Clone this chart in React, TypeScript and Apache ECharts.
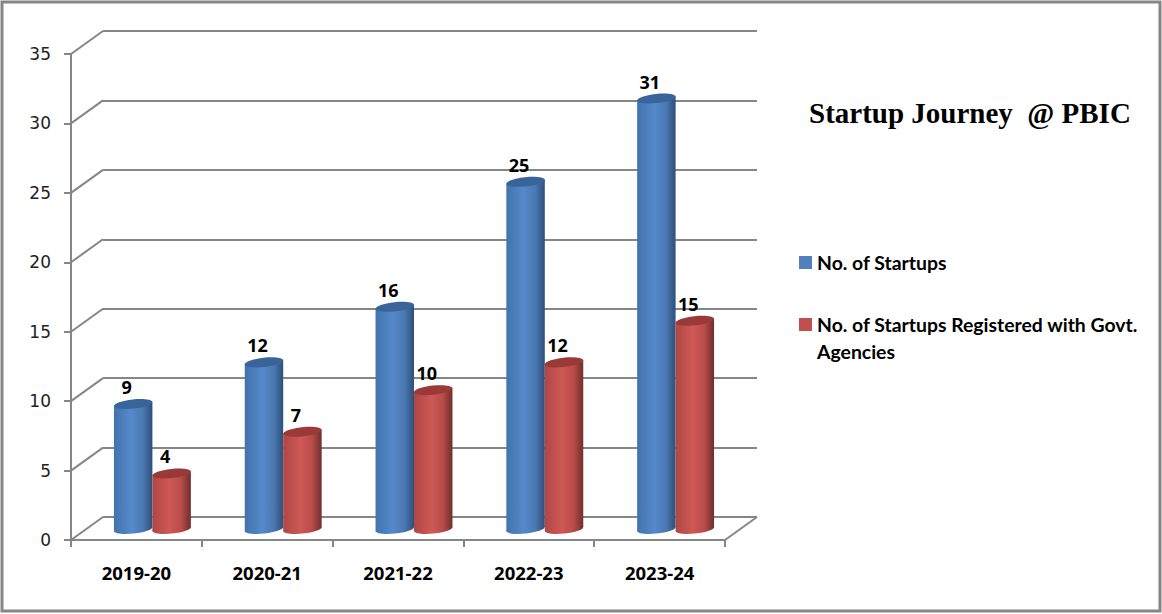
import React, { useEffect, useRef } from "react";
import * as echarts from "echarts";

const categories = ["2019-20", "2020-21", "2021-22", "2022-23", "2023-24"];
const startups = [9, 12, 16, 25, 31];
const registered = [4, 7, 10, 12, 15];
const tickValues = [0, 5, 10, 15, 20, 25, 30, 35];
const nameA = "No. of Startups";
const nameB = "No. of Startups Registered with Govt. Agencies";
const titleText = "Startup Journey  @ PBIC";

const AXIS = "#868686";
const W = 654, H = 486, L = 71, T = 54, DX = 32, DY = 23;

const grad = (stops: [number, string][]) =>
  new echarts.graphic.LinearGradient(0, 0, 1, 0, stops.map(([offset, color]) => ({ offset, color })));

const blueBody: [number, string][] = [[0, "#4273ae"], [0.45, "#5589ca"], [0.75, "#4a79b2"], [1, "#2e4f7a"]];
const redBody: [number, string][] = [[0, "#ae4744"], [0.45, "#cf5856"], [0.75, "#b84c4a"], [1, "#6f2e2c"]];

function cylinder(side: number, body: [number, string][], cap: string) {
  return (params: any, api: any) => {
    const band = api.size([1, 0])[0];
    const bw = band * 0.294;
    const base = api.coord([api.value(0), 0]);
    const top = api.coord([api.value(0), api.value(1)]);
    const cx = base[0] + (side * bw) / 2;
    const rx = bw / 2;
    const rot = (6 * Math.PI) / 180;
    const dy = Math.sin(rot) * rx;
    const fill = grad(body);
    const ell = (y: number, f: any) => ({
      type: "ellipse",
      x: cx,
      y,
      rotation: rot,
      shape: { cx: 0, cy: 0, rx: rx / Math.cos(rot), ry: 4.6 },
      style: { fill: f },
    });
    return {
      type: "group",
      children: [
        ell(base[1], fill),
        {
          type: "polygon",
          shape: {
            points: [
              [cx - rx, top[1] + dy],
              [cx + rx, top[1] - dy],
              [cx + rx, base[1] - dy],
              [cx - rx, base[1] + dy],
            ],
          },
          style: { fill },
        },
        ell(top[1], cap),
        {
          type: "text",
          x: cx - 6.5,
          y: top[1] - 17,
          style: {
            text: String(api.value(1)),
            fill: "#000",
            font: "bold 18px 'Open Sans'",
            align: "center",
            verticalAlign: "middle",
          },
        },
      ],
    };
  };
}

function diagonal(params: any, api: any) {
  const p = api.coord([0, api.value(0)]);
  const x = p[0] - api.size([1, 0])[0] / 2;
  return {
    type: "line",
    shape: { x1: x, y1: p[1], x2: x + DX, y2: p[1] - DY },
    style: { stroke: AXIS, lineWidth: 2, fill: "none" },
  };
}

function floorEdge(params: any, api: any) {
  const p = api.coord([categories.length - 1, 0]);
  const x = p[0] + api.size([1, 0])[0] / 2;
  return {
    type: "line",
    shape: { x1: x, y1: p[1], x2: x + DX, y2: p[1] - DY },
    style: { stroke: AXIS, lineWidth: 2, fill: "none" },
  };
}

export default function App() {
  const ref = useRef<HTMLDivElement>(null);
  useEffect(() => {
    document.body.style.margin = "0";
    const chart = echarts.init(ref.current!, undefined, { renderer: "svg" });
    const hiddenX = { type: "category", data: categories, show: false };
    const hiddenY = { type: "value", min: 0, max: 35, interval: 5, show: false };
    chart.setOption({
      animation: false,
      backgroundColor: "#fff",
      title: {
        text: titleText,
        left: 804,
        top: 93,
        textStyle: { fontFamily: "'Liberation Serif'", fontWeight: "bold", fontSize: 29, color: "#000" },
      },
      legend: {
        orient: "vertical",
        left: 794,
        top: 244,
        itemGap: 8,
        itemWidth: 13,
        itemHeight: 13,
        icon: "rect",
        selectedMode: false,
        data: [nameA, nameB],
        formatter: (n: string) =>
          n === nameB ? "\nNo. of Startups Registered with Govt.\nAgencies" : n,
        textStyle: { fontFamily: "Lato", fontWeight: "bold", fontSize: 19.4, color: "#000", lineHeight: 27 },
      },
      graphic: [
        {
          type: "rect",
          shape: { x: 2, y: 2, width: 1158, height: 609 },
          style: { fill: "none", stroke: AXIS, lineWidth: 3 },
          silent: true,
        },
      ],
      grid: [
        { left: L, top: T, width: W, height: H },
        { left: L + DX / 2, top: T - DY / 2 + 0.5, width: W, height: H },
        { left: L + DX, top: T - DY, width: W, height: H },
      ],
      xAxis: [
        {
          gridIndex: 0,
          type: "category",
          data: categories,
          axisLine: { show: true, lineStyle: { color: AXIS, width: 2 } },
          axisTick: { show: true, length: 7, lineStyle: { color: AXIS, width: 2 } },
          axisLabel: {
            margin: 23,
            fontFamily: "'Open Sans'",
            fontWeight: "bold",
            fontSize: 18.5,
            color: "#000",
            interval: 0,
          },
        },
        { ...hiddenX, gridIndex: 1 },
        { ...hiddenX, gridIndex: 2 },
      ],
      yAxis: [
        {
          gridIndex: 0,
          type: "value",
          min: 0,
          max: 35,
          interval: 5,
          axisLine: { show: true, lineStyle: { color: AXIS, width: 2 } },
          axisTick: { show: true, length: 7, lineStyle: { color: AXIS, width: 2 } },
          axisLabel: { margin: 20, fontFamily: "'DejaVu Sans'", fontSize: 17, color: "#222" },
          splitLine: { show: false },
        },
        { ...hiddenY, gridIndex: 1 },
        {
          gridIndex: 2,
          type: "value",
          min: 0,
          max: 35,
          interval: 5,
          axisLine: { show: false },
          axisTick: { show: false },
          axisLabel: { show: false },
          splitLine: { show: true, lineStyle: { color: AXIS, width: 2 } },
        },
      ],
      series: [
        {
          type: "custom",
          name: "walls",
          xAxisIndex: 0,
          yAxisIndex: 0,
          silent: true,
          clip: false,
          z: 1,
          data: tickValues.map((v) => [v]),
          encode: { y: 0 },
          renderItem: diagonal,
        },
        {
          type: "custom",
          name: "floor",
          xAxisIndex: 0,
          yAxisIndex: 0,
          silent: true,
          clip: false,
          z: 1,
          data: [[0]],
          encode: { y: 0 },
          renderItem: floorEdge,
        },
        {
          type: "custom",
          name: nameA,
          xAxisIndex: 1,
          yAxisIndex: 1,
          clip: false,
          z: 3,
          itemStyle: { color: "#4F81BD" },
          encode: { x: 0, y: 1 },
          data: startups.map((v, i) => [i, v]),
          renderItem: cylinder(-1, blueBody, "#386499"),
        },
        {
          type: "custom",
          name: nameB,
          xAxisIndex: 1,
          yAxisIndex: 1,
          clip: false,
          z: 4,
          itemStyle: { color: "#C0504D" },
          encode: { x: 0, y: 1 },
          data: registered.map((v, i) => [i, v]),
          renderItem: cylinder(1, redBody, "#9a3a38"),
        },
      ],
    });
    return () => chart.dispose();
  }, []);
  return <div ref={ref} style={{ width: 1162, height: 614 }} />;
}
